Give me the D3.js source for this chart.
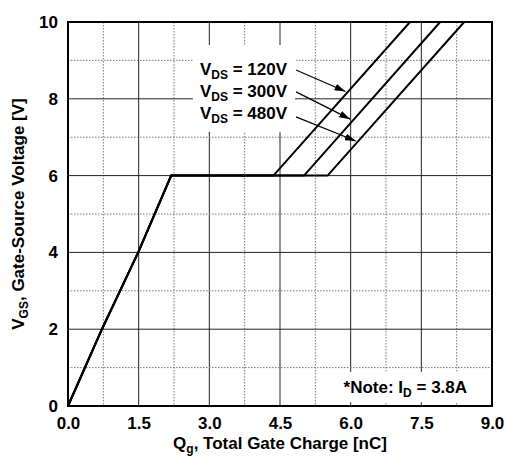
<!DOCTYPE html>
<html>
<head>
<meta charset="utf-8">
<script src="https://cdn.jsdelivr.net/npm/d3@7"></script>
<style>
  body { margin: 0; background: #fff; }
  text { font-family: "Liberation Sans", Arial, sans-serif; font-weight: bold; fill: #000; }
</style>
</head>
<body>
<svg id="chart" width="506" height="457"></svg>
<script>
// data
var riseQ = [0, 0.72, 1.49, 2.19];
var riseV = [0, 2, 4, 6];
var vdsLabels = ['120V', '300V', '480V'];
var plateauEnd = [4.36, 5.01, 5.51];   // Qg where plateau ends
var topQ = [7.26, 7.90, 8.41];         // Qg where curve reaches 10 V
var xTicks = [0, 1.5, 3.0, 4.5, 6.0, 7.5, 9.0];
var yTicks = [0, 2, 4, 6, 8, 10];

// arrows: label end -> curve
var arrowFrom = [[4.84, 8.75], [4.84, 8.18], [4.84, 7.53]];
var arrowTo = [[5.89, 8.19], [5.99, 7.47], [6.11, 6.90]];

var margin = { top: 22, left: 68, bottom: 51, right: 14 };
var svg = d3.select('#chart');
var width = svg.attr('width') - margin.left - margin.right;
var height = svg.attr('height') - margin.top - margin.bottom;

var x = d3.scaleLinear().domain([0, 9]).range([0, width]);
var y = d3.scaleLinear().domain([0, 10]).range([height, 0]);

var g = svg.append('g').attr('transform', 'translate(' + margin.left + ',' + margin.top + ')');

// grid
var xGrid = d3.range(1, 12).map(function(i){ return i * 0.75; });
g.selectAll('.vgrid').data(xGrid).enter().append('line')
  .attr('x1', function(d){ return x(d); }).attr('x2', function(d){ return x(d); })
  .attr('y1', 0).attr('y2', height)
  .attr('stroke', function(d, i){ return i % 2 ? '#222' : '#777'; })
  .attr('stroke-dasharray', function(d, i){ return i % 2 ? null : '1.5,1.5'; })
  .attr('stroke-width', 1);

var yGrid = d3.range(1, 10);
g.selectAll('.hgrid').data(yGrid).enter().append('line')
  .attr('y1', function(d){ return y(d); }).attr('y2', function(d){ return y(d); })
  .attr('x1', 0).attr('x2', width)
  .attr('stroke', function(d){ return d % 2 ? '#777' : '#222'; })
  .attr('stroke-dasharray', function(d){ return d % 2 ? '1.5,1.5' : null; })
  .attr('stroke-width', 1);

// white boxes behind the labels
g.append('rect')
  .attr('x', x(2.65)).attr('y', y(9.4))
  .attr('width', x(4.82) - x(2.65)).attr('height', y(7.14) - y(9.4))
  .attr('fill', '#fff');
g.append('rect')
  .attr('x', x(5.69)).attr('y', y(0.89))
  .attr('width', x(9) - x(5.69)).attr('height', y(0.1) - y(0.89))
  .attr('fill', '#fff');

// curves
var line = d3.line().x(function(d){ return x(d[0]); }).y(function(d){ return y(d[1]); });
vdsLabels.forEach(function(lab, i){
  var pts = riseQ.map(function(q, j){ return [q, riseV[j]]; });
  pts.push([plateauEnd[i], 6]);
  pts.push([topQ[i], 10]);
  g.append('path').datum(pts)
    .attr('d', line)
    .attr('fill', 'none')
    .attr('stroke', '#000')
    .attr('stroke-width', 2)
    .attr('stroke-linejoin', 'miter');
});

// arrows
svg.append('defs').append('marker')
  .attr('id', 'arr').attr('viewBox', '0 0 11 7')
  .attr('refX', 11).attr('refY', 3.5)
  .attr('markerWidth', 11).attr('markerHeight', 7)
  .attr('markerUnits', 'userSpaceOnUse')
  .attr('orient', 'auto')
  .append('path').attr('d', 'M0,0L11,3.5L0,7Z').attr('fill', '#000');

arrowFrom.forEach(function(a, i){
  g.append('line')
    .attr('x1', x(a[0])).attr('y1', y(a[1]))
    .attr('x2', x(arrowTo[i][0])).attr('y2', y(arrowTo[i][1]))
    .attr('stroke', '#000').attr('stroke-width', 1.2)
    .attr('marker-end', 'url(#arr)');
});

// V_DS labels
var labelY = [8.62, 8.05, 7.47];
vdsLabels.forEach(function(lab, i){
  var t = g.append('text')
    .attr('x', x(2.8)).attr('y', y(labelY[i]))
    .attr('font-size', 17);
  t.append('tspan').text('V');
  t.append('tspan').attr('font-size', 12).attr('dy', 4).text('DS');
  t.append('tspan').attr('dy', -4).text(' = ' + lab);
});

// note
var note = g.append('text')
  .attr('x', x(5.85)).attr('y', y(0.34))
  .attr('font-size', 17);
note.append('tspan').text('*Note: I');
note.append('tspan').attr('font-size', 12).attr('dy', 4).text('D');
note.append('tspan').attr('dy', -4).text(' = 3.8A');

// frame
g.append('rect')
  .attr('x', 0).attr('y', 0).attr('width', width).attr('height', height)
  .attr('fill', 'none').attr('stroke', '#000').attr('stroke-width', 2);

// axes
var xAxis = d3.axisBottom(x).tickValues(xTicks).tickSize(0).tickPadding(11).tickFormat(d3.format('.1f'));
var yAxis = d3.axisLeft(y).tickValues(yTicks).tickSize(0).tickPadding(10).tickFormat(d3.format('d'));

g.append('g').attr('transform', 'translate(0,' + height + ')').call(xAxis)
  .call(function(s){ s.select('.domain').remove(); })
  .selectAll('text').attr('font-size', 17).attr('font-family', null);
g.append('g').call(yAxis)
  .call(function(s){ s.select('.domain').remove(); })
  .selectAll('text').attr('font-size', 17).attr('font-family', null);

// axis titles
var xt = svg.append('text')
  .attr('x', margin.left + width / 2).attr('y', 449)
  .attr('text-anchor', 'middle').attr('font-size', 17);
xt.append('tspan').text('Q');
xt.append('tspan').attr('font-size', 12).attr('dy', 4).text('g');
xt.append('tspan').attr('dy', -4).text(', Total Gate Charge [nC]');

var yt = svg.append('text')
  .attr('transform', 'translate(24,' + (margin.top + height / 2) + ') rotate(-90)')
  .attr('text-anchor', 'middle').attr('font-size', 17);
yt.append('tspan').text('V');
yt.append('tspan').attr('font-size', 12).attr('dy', 4).text('GS');
yt.append('tspan').attr('dy', -4).text(', Gate-Source Voltage [V]');
</script>
</body>
</html>
